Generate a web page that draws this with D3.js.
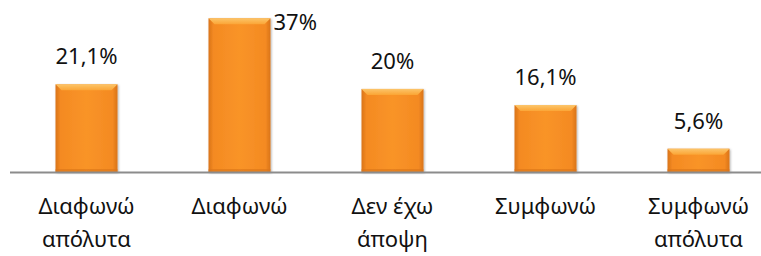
<!DOCTYPE html>
<html>
  <head>
    <meta charset="utf-8">
    <script src="https://cdn.jsdelivr.net/npm/d3@7"></script>
    <style>
      body { margin: 0; background: #fff; }
      text { font-family: "Noto Sans", sans-serif; fill: #111; }
    </style>
  </head>
  <body>
    <script type="text/javascript">
      var w = 761;
      var h = 256;

      // Data
      var categories = [["Διαφωνώ", "απόλυτα"], ["Διαφωνώ"], ["Δεν έχω", "άποψη"], ["Συμφωνώ"], ["Συμφωνώ", "απόλυτα"]];
      var values = [21.1, 37, 20, 16.1, 5.6];
      var valueLabels = ["21,1%", "37%", "20%", "16,1%", "5,6%"];

      var svg = d3.select("body")
                  .append("svg")
                    .attr("width", w)
                    .attr("height", h);

      var x = d3.scaleBand()
                .domain(d3.range(values.length))
                .range([10, 775])
                .paddingInner(0.595)
                .paddingOuter(0.2975);

      var y = d3.scaleLinear()
                .domain([0, 37])
                .range([172, 18.3]);

      // Gradients for the bevelled orange bars
      var defs = svg.append("defs");
      var gH = defs.append("linearGradient").attr("id", "gh")
                   .attr("x1", "0").attr("x2", "1").attr("y1", "0").attr("y2", "0");
      gH.append("stop").attr("offset", "0").attr("stop-color", "#d9741a");
      gH.append("stop").attr("offset", "0.08").attr("stop-color", "#f48a22");
      gH.append("stop").attr("offset", "0.5").attr("stop-color", "#f99428");
      gH.append("stop").attr("offset", "0.92").attr("stop-color", "#f48a22");
      gH.append("stop").attr("offset", "1").attr("stop-color", "#d9741a");

      var gTop = defs.append("linearGradient").attr("id", "gtop")
                     .attr("x1", "0").attr("x2", "0").attr("y1", "0").attr("y2", "1");
      gTop.append("stop").attr("offset", "0").attr("stop-color", "#fcc56a");
      gTop.append("stop").attr("offset", "1").attr("stop-color", "#fba535");

      var shadow = defs.append("filter").attr("id", "sh")
                       .attr("x", "-20%").attr("y", "-20%").attr("width", "140%").attr("height", "140%");
      shadow.append("feDropShadow").attr("dx", 1).attr("dy", 1).attr("stdDeviation", 1.2)
            .attr("flood-color", "#000").attr("flood-opacity", 0.3);

      var bars = svg.selectAll("g.bar")
                    .data(values)
                    .enter()
                    .append("g")
                      .attr("class", "bar")
                      .attr("filter", "url(#sh)");

      bars.append("rect")
          .attr("x", function(d, i) { return x(i); })
          .attr("y", function(d) { return y(d); })
          .attr("width", x.bandwidth())
          .attr("height", function(d) { return y(0) - y(d); })
          .attr("fill", "url(#gh)");

      // top bevel
      bars.append("path")
          .attr("d", function(d, i) {
            var x0 = x(i), x1 = x(i) + x.bandwidth(), t = y(d), b = 6;
            return "M" + x0 + "," + t + "L" + x1 + "," + t + "L" + (x1 - b) + "," + (t + b) +
                   "L" + (x0 + b) + "," + (t + b) + "Z";
          })
          .attr("fill", "url(#gtop)");

      // bottom edge darker
      bars.append("rect")
          .attr("x", function(d, i) { return x(i); })
          .attr("y", y(0) - 3)
          .attr("width", x.bandwidth())
          .attr("height", 3)
          .attr("fill", "#d9741a")
          .attr("opacity", 0.6);

      // Axis line
      svg.append("line")
         .attr("x1", 10).attr("x2", w)
         .attr("y1", y(0) + 0.5).attr("y2", y(0) + 0.5)
         .attr("stroke", "#8c8c8c")
         .attr("stroke-width", 2);

      // Value labels (37% sits beside its bar)
      svg.selectAll("text.val")
         .data(values)
         .enter()
         .append("text")
           .attr("class", "val")
           .text(function(d, i) { return valueLabels[i]; })
           .attr("font-size", 22)
           .attr("text-anchor", function(d, i) { return i === 1 ? "start" : "middle"; })
           .attr("x", function(d, i) {
             return i === 1 ? x(i) + x.bandwidth() + 3 : x(i) + x.bandwidth() / 2;
           })
           .attr("y", function(d, i) { return i === 1 ? y(d) + 12 : y(d) - 20; });

      // Category labels
      var cat = svg.selectAll("text.cat")
                   .data(categories)
                   .enter()
                   .append("text")
                     .attr("class", "cat")
                     .attr("font-size", 22)
                     .attr("text-anchor", "middle");
      cat.selectAll("tspan")
         .data(function(d, i) { return d.map(function(s) { return { s: s, i: i }; }); })
         .enter()
         .append("tspan")
           .attr("x", function(d) { return x(d.i) + x.bandwidth() / 2; })
           .attr("y", function(d, j) { return 214 + j * 33; })
           .text(function(d) { return d.s; });
    </script>
  </body>
</html>
